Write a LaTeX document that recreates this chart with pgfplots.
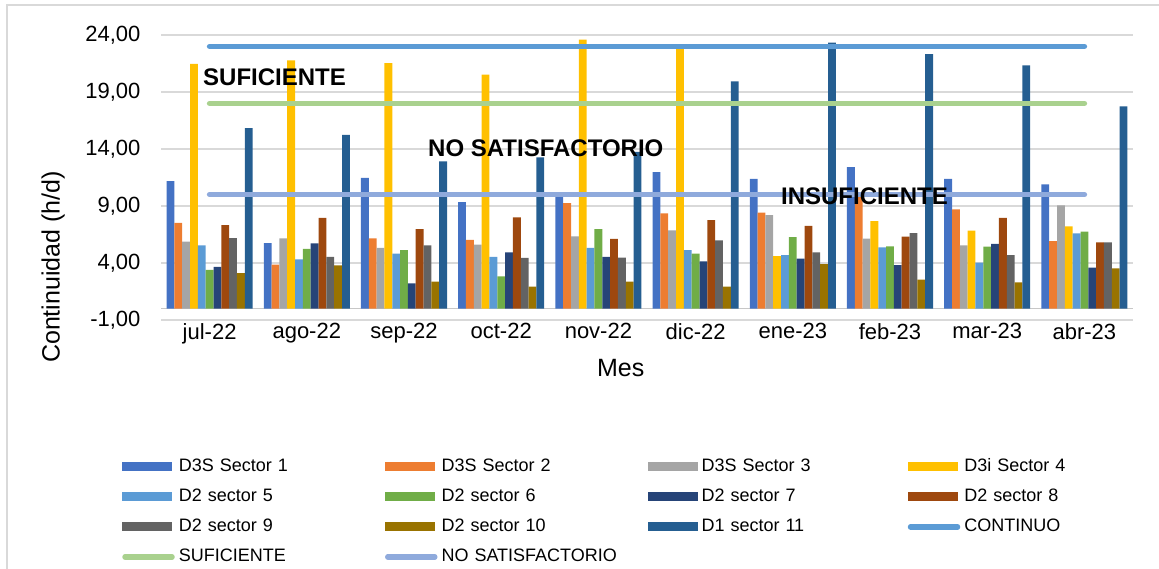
\documentclass[border=0pt]{standalone}
\usepackage{pgfplots}
\pgfplotsset{compat=1.18}
\usepackage{fontspec}
\setmainfont{Liberation Sans}
\definecolor{c1}{HTML}{4472C4}
\definecolor{c2}{HTML}{ED7D31}
\definecolor{c3}{HTML}{A5A5A5}
\definecolor{c4}{HTML}{FFC000}
\definecolor{c5}{HTML}{5B9BD5}
\definecolor{c6}{HTML}{70AD47}
\definecolor{c7}{HTML}{264478}
\definecolor{c8}{HTML}{9E480E}
\definecolor{c9}{HTML}{636363}
\definecolor{c10}{HTML}{997300}
\definecolor{c11}{HTML}{255E91}
\definecolor{cont}{HTML}{5B9BD5}
\definecolor{suf}{HTML}{A9D18E}
\definecolor{nosat}{HTML}{8FAADC}
\definecolor{gridc}{HTML}{D9D9D9}
\pgfplotsset{
  B/.style 2 args={ybar, bar width=0.0805, bar shift=#2, fill=#1, draw=none,
    legend image code/.code={\fill[#1] (0pt,-4.5pt) rectangle (50pt,4.5pt);}},
  L/.style={color=#1, line width=5.5pt, line cap=round, mark=none, sharp plot,
    legend image code/.code={\draw[#1, line width=5.5pt, line cap=round] (3pt,0pt) -- (50pt,0pt);}},
}
\begin{document}
\begin{tikzpicture}[x=1pt,y=1pt]
\useasboundingbox (0,0) rectangle (1159,-569);
\draw[color=gridc, line width=1.5pt] (7,-569) -- (7,-5) -- (1159,-5);
\begin{axis}[
  at={(161pt,-320pt)}, anchor=south west,
  scale only axis, width=972pt, height=285pt,
  xmin=-0.5, xmax=9.5, ymin=-1, ymax=24,
  xtick={0,...,9},
  xticklabels={jul-22,ago-22,sep-22,oct-22,nov-22,dic-22,ene-23,feb-23,mar-23,abr-23},
  ytick={-1,4,9,14,19,24},
  yticklabel style={/pgf/number format/fixed, /pgf/number format/fixed zerofill, /pgf/number format/precision=2, /pgf/number format/use comma, /pgf/number format/assume math mode=true, xshift=-17pt},
  tick label style={font=\fontsize{22}{26}\selectfont},
  major tick length=0pt,
  axis line style={draw=none},
  ymajorgrids, grid style={color=gridc, line width=1.5pt},
  ylabel={Continuidad (h/d)},
  ylabel style={at={(axis description cs:-0.111,0.186)}, anchor=center, font=\fontsize{25}{30}\selectfont},
  xlabel={Mes},
  xlabel style={at={(axis description cs:0.473,-0.168)}, anchor=center, font=\fontsize{25}{30}\selectfont},
  legend columns=4,
  legend cell align=left,
  legend style={at={(axis description cs:-0.0401,-0.463)}, anchor=north west, draw=none, fill=none,
    inner sep=0pt, outer sep=0pt, row sep=0pt, column sep=0pt,
    font=\fontsize{18}{20}\selectfont,
    nodes={text width=203pt, text height=13pt, text depth=4pt, inner ysep=6.5pt, inner xsep=3pt, align=left},
    /tikz/every odd column/.append style={column sep=1pt}},
]
\draw[color=gridc!80!gray, line width=1.5pt] (axis cs:-0.5,0) -- (axis cs:9.5,0);
\addplot[B={c1}{-0.4025}] coordinates {(0,11.19) (1,5.75) (2,11.46) (3,9.35) (4,10.0) (5,11.98) (6,11.37) (7,12.42) (8,11.37) (9,10.90)};
\addlegendentry{D3S Sector 1}
\addplot[B={c2}{-0.322}] coordinates {(0,7.51) (1,3.85) (2,6.16) (3,6.02) (4,9.26) (5,8.36) (6,8.42) (7,9.9) (8,8.71) (9,5.93)};
\addlegendentry{D3S Sector 2}
\addplot[B={c3}{-0.2415}] coordinates {(0,5.87) (1,6.16) (2,5.32) (3,5.61) (4,6.34) (5,6.87) (6,8.21) (7,6.13) (8,5.55) (9,9.06)};
\addlegendentry{D3S Sector 3}
\addplot[B={c4}{-0.161}] coordinates {(0,21.46) (1,21.78) (2,21.54) (3,20.52) (4,23.59) (5,23.0) (6,4.61) (7,7.68) (8,6.84) (9,7.22)};
\addlegendentry{D3i Sector 4}
\addplot[B={c5}{-0.0805}] coordinates {(0,5.55) (1,4.32) (2,4.82) (3,4.53) (4,5.32) (5,5.14) (6,4.70) (7,5.37) (8,4.03) (9,6.60)};
\addlegendentry{D2 sector 5}
\addplot[B={c6}{0}] coordinates {(0,3.39) (1,5.23) (2,5.14) (3,2.83) (4,6.98) (5,4.82) (6,6.28) (7,5.46) (8,5.43) (9,6.75)};
\addlegendentry{D2 sector 6}
\addplot[B={c7}{0.0805}] coordinates {(0,3.65) (1,5.73) (2,2.22) (3,4.94) (4,4.53) (5,4.15) (6,4.38) (7,3.82) (8,5.67) (9,3.59)};
\addlegendentry{D2 sector 7}
\addplot[B={c8}{0.161}] coordinates {(0,7.33) (1,7.95) (2,6.98) (3,8.01) (4,6.11) (5,7.77) (6,7.25) (7,6.31) (8,7.95) (9,5.81)};
\addlegendentry{D2 sector 8}
\addplot[B={c9}{0.2415}] coordinates {(0,6.19) (1,4.53) (2,5.55) (3,4.44) (4,4.47) (5,5.99) (6,4.94) (7,6.63) (8,4.70) (9,5.81)};
\addlegendentry{D2 sector 9}
\addplot[B={c10}{0.322}] coordinates {(0,3.12) (1,3.80) (2,2.36) (3,1.92) (4,2.36) (5,1.92) (6,3.91) (7,2.54) (8,2.30) (9,3.53)};
\addlegendentry{D2 sector 10}
\addplot[B={c11}{0.4025}] coordinates {(0,15.84) (1,15.23) (2,12.92) (3,13.27) (4,13.74) (5,19.94) (6,23.33) (7,22.33) (8,21.34) (9,17.74)};
\addlegendentry{D1 sector 11}
\addplot[L=cont] coordinates {(0,23) (1,23) (2,23) (3,23) (4,23) (5,23) (6,23) (7,23) (8,23) (9,23)};
\addlegendentry{CONTINUO}
\addplot[L=suf] coordinates {(0,18) (1,18) (2,18) (3,18) (4,18) (5,18) (6,18) (7,18) (8,18) (9,18)};
\addlegendentry{SUFICIENTE}
\addplot[L=nosat] coordinates {(0,10) (1,10) (2,10) (3,10) (4,10) (5,10) (6,10) (7,10) (8,10) (9,10)};
\addlegendentry{NO SATISFACTORIO}
\node[anchor=west, inner sep=0pt, font=\bfseries\fontsize{24}{28}\selectfont] at (axis cs:-0.068,20.32) {SUFICIENTE};
\node[anchor=west, inner sep=0pt, font=\bfseries\fontsize{24}{28}\selectfont] at (axis cs:2.247,14.11) {NO SATISFACTORIO};
\node[anchor=west, inner sep=0pt, font=\bfseries\fontsize{24}{28}\selectfont] at (axis cs:5.878,9.82) {INSUFICIENTE};
\end{axis}
\end{tikzpicture}
\end{document}
